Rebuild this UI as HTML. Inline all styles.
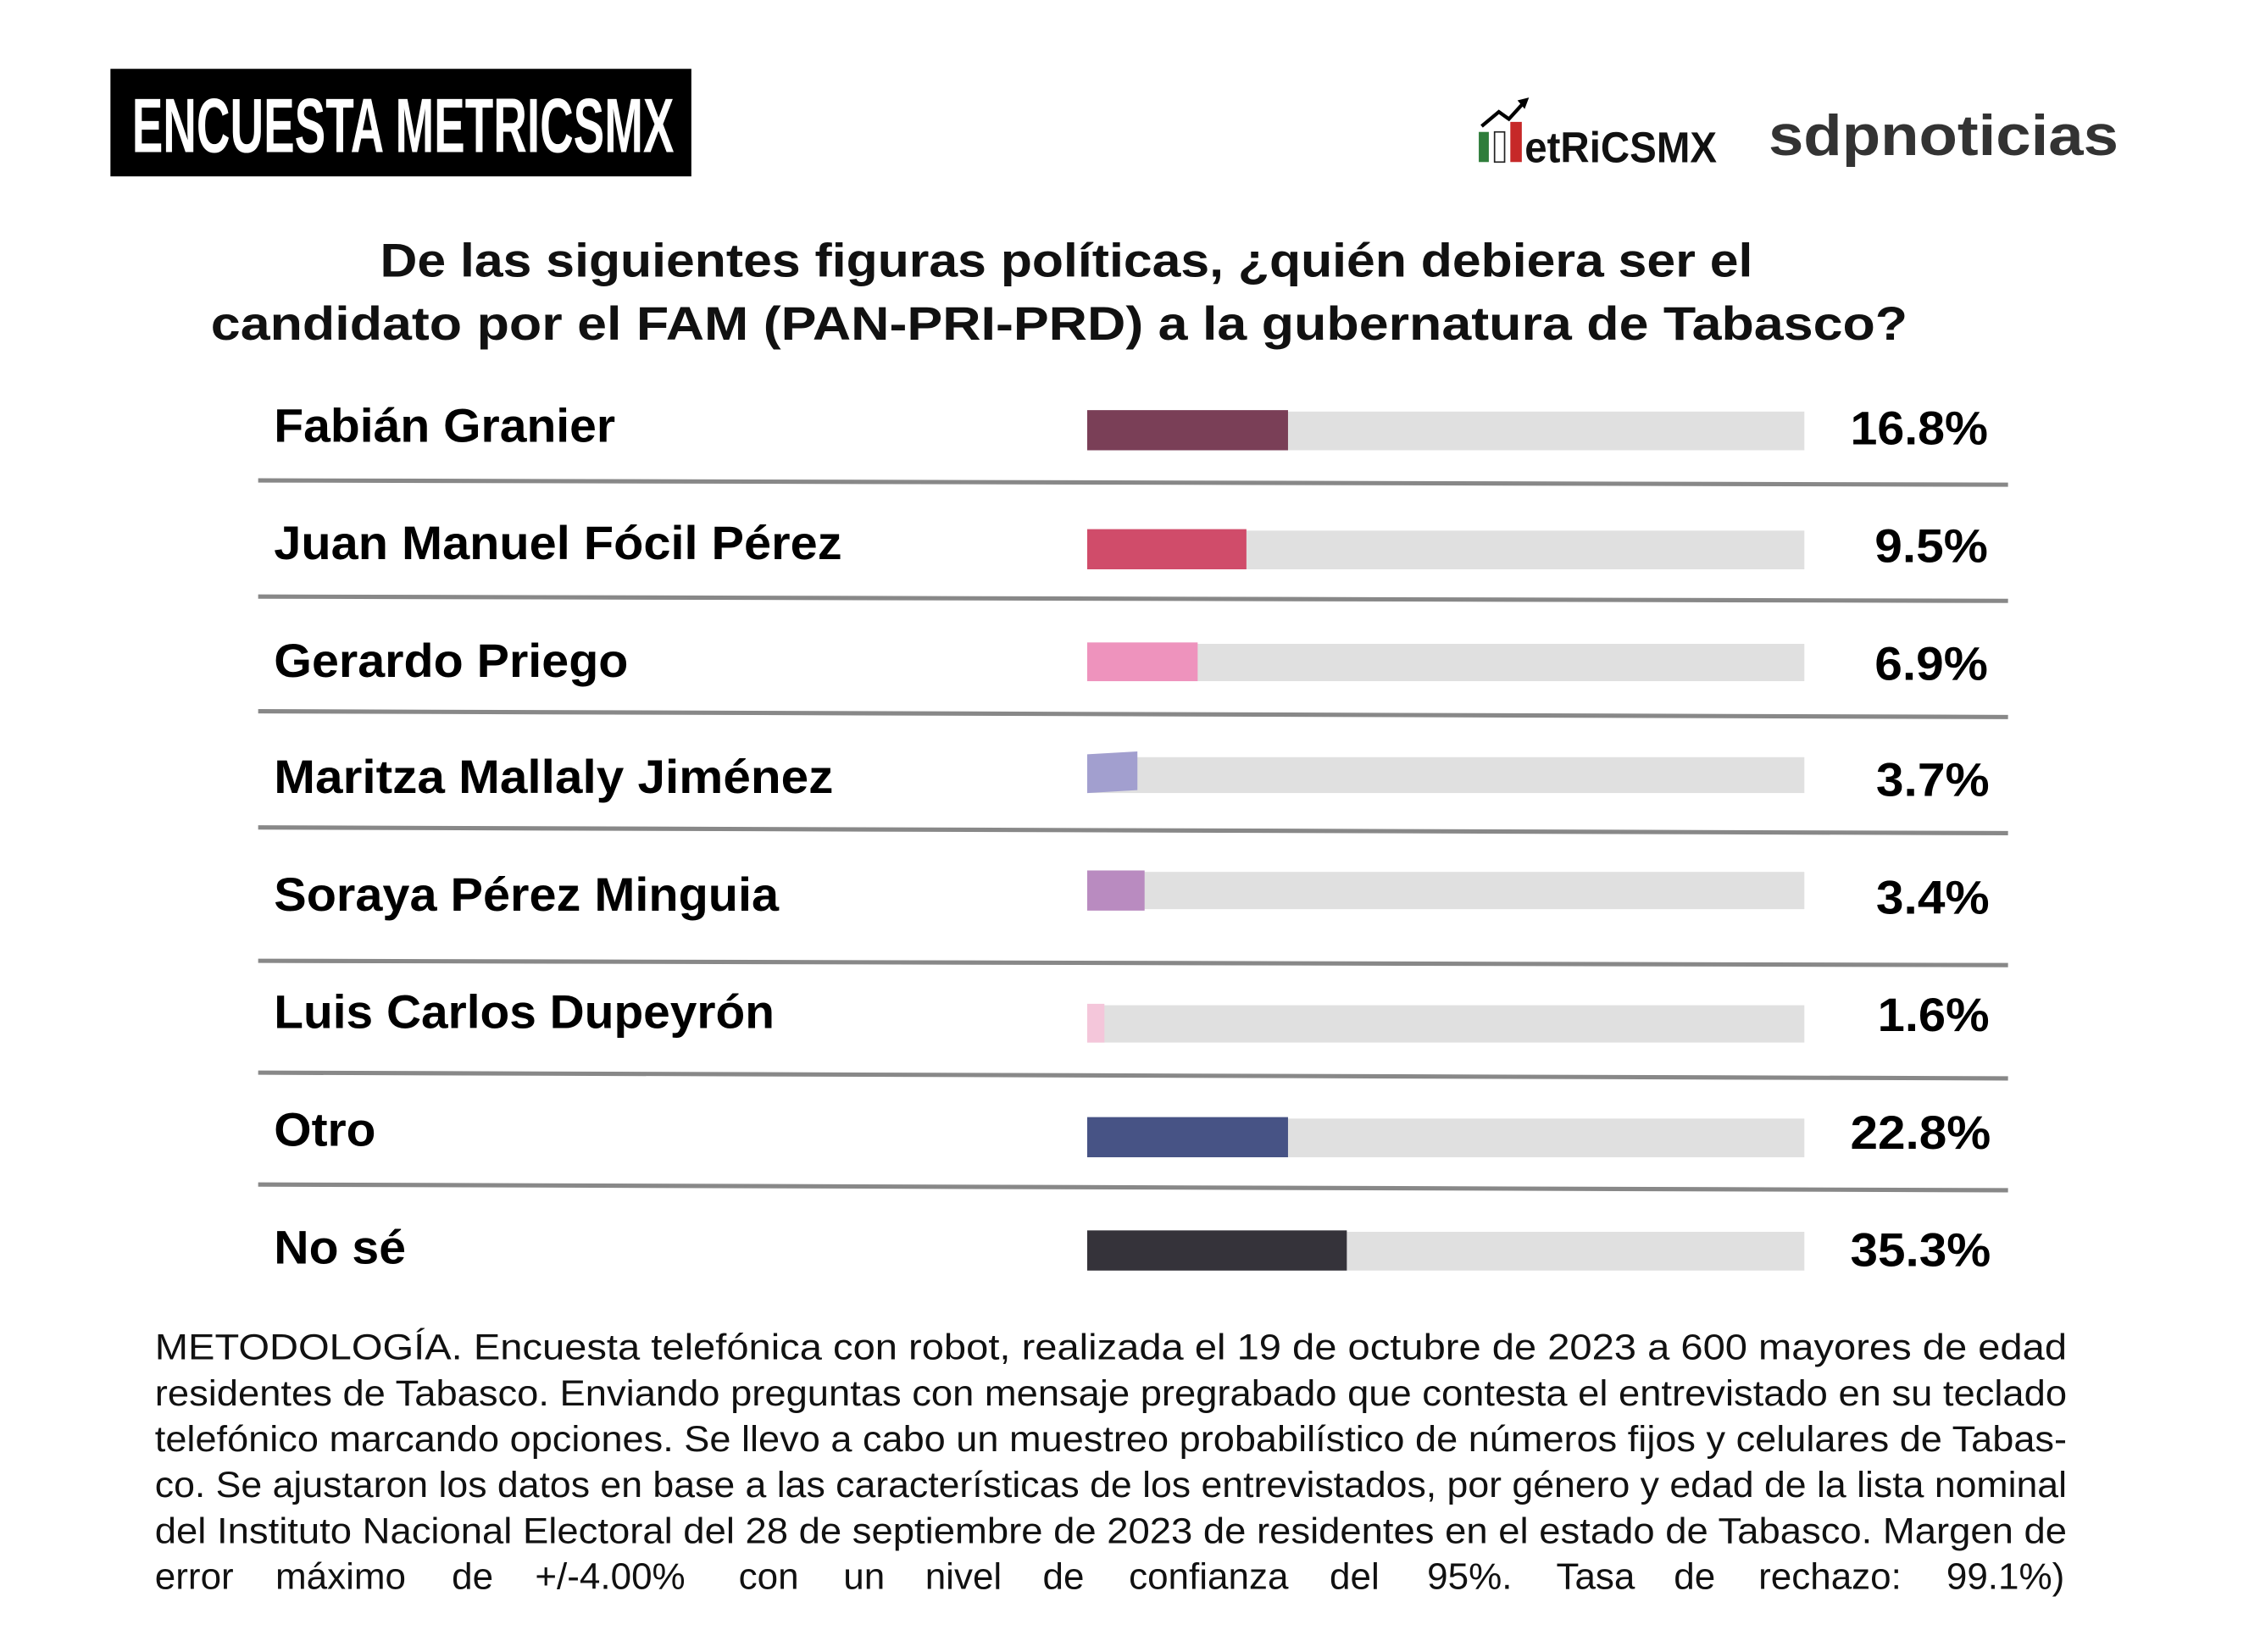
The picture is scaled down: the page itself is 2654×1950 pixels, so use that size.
<!DOCTYPE html>
<html><head><meta charset="utf-8"><style>
html,body{margin:0;padding:0;background:#fff}
svg{display:block}
text{font-family:"Liberation Sans",Arial,sans-serif}
</style></head><body>
<svg width="2654" height="1950" viewBox="0 0 1568 1152" preserveAspectRatio="none" xmlns="http://www.w3.org/2000/svg">
<rect width="1568" height="1152" fill="#fff"/>
<rect x="77" y="48" width="405" height="75" fill="#000"/>
<text x="92" y="106" font-size="54" font-weight="bold" fill="#fff" textLength="378" lengthAdjust="spacingAndGlyphs">ENCUESTA METRICSMX</text>
<rect x="1031" y="92" width="7" height="21" fill="#2e7d3a"/>
<rect x="1042" y="92" width="7" height="21" fill="#fff" stroke="#222" stroke-width="1"/>
<rect x="1053" y="85" width="8" height="28" fill="#c62828"/>
<polyline points="1033,88 1045,78 1052,83 1062,72" fill="none" stroke="#000" stroke-width="2.5"/>
<polygon points="1058,70 1066,68 1063,76" fill="#000"/>
<text x="1063" y="113" font-size="30" font-weight="bold" fill="#111" textLength="134" lengthAdjust="spacingAndGlyphs">etRiCSMX</text>
<text x="1233" y="108" font-size="40" font-weight="bold" fill="#333" textLength="244" lengthAdjust="spacingAndGlyphs">sdpnoticias</text>
<text x="265" y="193" font-size="33" font-weight="bold" fill="#111" textLength="957" lengthAdjust="spacingAndGlyphs">De las siguientes figuras políticas, ¿quién debiera ser el</text>
<text x="147" y="237" font-size="33" font-weight="bold" fill="#111" textLength="1183" lengthAdjust="spacingAndGlyphs">candidato por el FAM (PAN-PRI-PRD) a la gubernatura de Tabasco?</text>
<g font-size="33" font-weight="bold" fill="#000">
<text x="191" y="308" textLength="238" lengthAdjust="spacingAndGlyphs">Fabián Granier</text>
<text x="191" y="390" textLength="396" lengthAdjust="spacingAndGlyphs">Juan Manuel Fócil Pérez</text>
<text x="191" y="472" textLength="247" lengthAdjust="spacingAndGlyphs">Gerardo Priego</text>
<text x="191" y="553" textLength="390" lengthAdjust="spacingAndGlyphs">Maritza Mallaly Jiménez</text>
<text x="191" y="635" textLength="352" lengthAdjust="spacingAndGlyphs">Soraya Pérez Minguia</text>
<text x="191" y="717" textLength="349" lengthAdjust="spacingAndGlyphs">Luis Carlos Dupeyrón</text>
<text x="191" y="799" textLength="71" lengthAdjust="spacingAndGlyphs">Otro</text>
<text x="191" y="881" textLength="92" lengthAdjust="spacingAndGlyphs">No sé</text>
</g>
<g fill="#e0e0e0">
<rect x="758" y="287" width="500" height="27"/>
<rect x="758" y="370" width="500" height="27"/>
<rect x="758" y="449" width="500" height="26"/>
<rect x="758" y="528" width="500" height="25"/>
<rect x="758" y="608" width="500" height="26"/>
<rect x="758" y="701" width="500" height="26"/>
<rect x="758" y="780" width="500" height="27"/>
<rect x="758" y="859" width="500" height="27"/>
</g>
<rect x="758" y="286" width="140" height="28" fill="#7a3f57"/>
<rect x="758" y="369" width="111" height="28" fill="#d04c6a"/>
<rect x="758" y="448" width="77" height="27" fill="#ee93bd"/>
<polygon points="758,526 793,524 793,551 758,553" fill="#a29fcf"/>
<rect x="758" y="607" width="40" height="28" fill="#b98bc0"/>
<rect x="758" y="700" width="12" height="27" fill="#f4c6da"/>
<rect x="758" y="779" width="140" height="28" fill="#475385"/>
<rect x="758" y="858" width="181" height="28" fill="#35333a"/>
<g font-size="33" font-weight="bold" fill="#000">
<text x="1290" y="310" textLength="96" lengthAdjust="spacingAndGlyphs">16.8%</text>
<text x="1307" y="392" textLength="79" lengthAdjust="spacingAndGlyphs">9.5%</text>
<text x="1307" y="474" textLength="79" lengthAdjust="spacingAndGlyphs">6.9%</text>
<text x="1308" y="555" textLength="79" lengthAdjust="spacingAndGlyphs">3.7%</text>
<text x="1308" y="637" textLength="79" lengthAdjust="spacingAndGlyphs">3.4%</text>
<text x="1309" y="719" textLength="78" lengthAdjust="spacingAndGlyphs">1.6%</text>
<text x="1290" y="801" textLength="98" lengthAdjust="spacingAndGlyphs">22.8%</text>
<text x="1290" y="883" textLength="98" lengthAdjust="spacingAndGlyphs">35.3%</text>
</g>
<g stroke="#888" stroke-width="3">
<line x1="180" y1="335" x2="1400" y2="338"/>
<line x1="180" y1="416" x2="1400" y2="419"/>
<line x1="180" y1="496" x2="1400" y2="500"/>
<line x1="180" y1="577" x2="1400" y2="581"/>
<line x1="180" y1="670" x2="1400" y2="673"/>
<line x1="180" y1="748" x2="1400" y2="752"/>
<line x1="180" y1="826" x2="1400" y2="830"/>
</g>
<g font-size="25" fill="#111">
<text x="108" y="948" textLength="1333" lengthAdjust="spacingAndGlyphs">METODOLOGÍA. Encuesta telefónica con robot, realizada el 19 de octubre de 2023 a 600 mayores de edad</text>
<text x="108" y="980" textLength="1333" lengthAdjust="spacingAndGlyphs">residentes de Tabasco. Enviando preguntas con mensaje pregrabado que contesta el entrevistado en su teclado</text>
<text x="108" y="1012" textLength="1333" lengthAdjust="spacingAndGlyphs">telefónico marcando opciones. Se llevo a cabo un muestreo probabilístico de números fijos y celulares de Tabas-</text>
<text x="108" y="1044" textLength="1333" lengthAdjust="spacingAndGlyphs">co. Se ajustaron los datos en base a las características de los entrevistados, por género y edad de la lista nominal</text>
<text x="108" y="1076" textLength="1333" lengthAdjust="spacingAndGlyphs">del Instituto Nacional Electoral del 28 de septiembre de 2023 de residentes en el estado de Tabasco. Margen de</text>
<text y="1108" font-size="26"><tspan x="108">error</tspan><tspan x="192">máximo</tspan><tspan x="315">de</tspan><tspan x="373">+/-4.00%</tspan><tspan x="515">con</tspan><tspan x="588">un</tspan><tspan x="645">nivel</tspan><tspan x="727">de</tspan><tspan x="787">confianza</tspan><tspan x="927">del</tspan><tspan x="995">95%.</tspan><tspan x="1085">Tasa</tspan><tspan x="1167">de</tspan><tspan x="1226">rechazo:</tspan><tspan x="1357">99.1%)</tspan></text>
</g>
</svg>
</body></html>
